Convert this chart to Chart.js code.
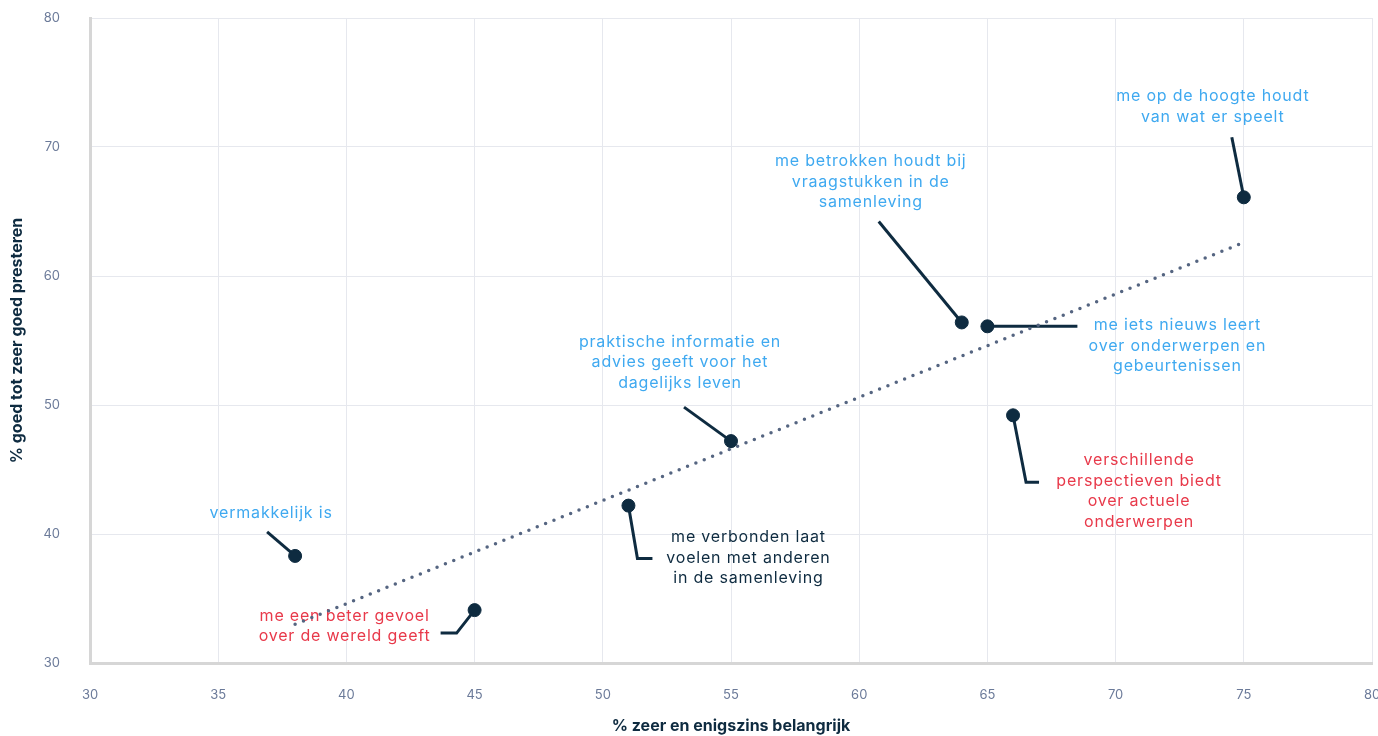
<!DOCTYPE html>
<html>
<head>
<meta charset="utf-8">
<script src="https://cdn.jsdelivr.net/npm/chart.js@4.4.0/dist/chart.umd.min.js"></script>
<style>
  html, body { margin: 0; padding: 0; background: #fff; overflow: hidden; }
  #wrap { width: 1378px; height: 736px; }
</style>
</head>
<body>
<div id="wrap"><canvas id="chart" width="1378" height="736"></canvas></div>
<script>
// data
const belangrijk = [38, 45, 51, 55, 64, 65, 66, 75];
const presteren = [38.3, 34.1, 42.2, 47.2, 56.4, 56.1, 49.2, 66.1];
const labels = [
    ['vermakkelijk is'],
    ['me een beter gevoel', 'over de wereld geeft'],
    ['me verbonden laat', 'voelen met anderen', 'in de samenleving'],
    ['praktische informatie en', 'advies geeft voor het', 'dagelijks leven'],
    ['me betrokken houdt bij', 'vraagstukken in de', 'samenleving'],
    ['me iets nieuws leert', 'over onderwerpen en', 'gebeurtenissen'],
    ['verschillende', 'perspectieven biedt', 'over actuele', 'onderwerpen'],
    ['me op de hoogte houdt', 'van wat er speelt']
];
const groep = ['hoog', 'laag', 'neutraal', 'hoog', 'hoog', 'hoog', 'laag', 'hoog'];
const trendX = [38, 75];
const trendY = [33.0, 62.6];
const xTicks = [30, 35, 40, 45, 50, 55, 60, 65, 70, 75, 80];
const yTicks = [30, 40, 50, 60, 70, 80];

const NAVY = '#0e2b40';
const kleuren = { hoog: '#3fa9f0', laag: '#e8394a', neutraal: '#0e2b40' };

// connector path + label offsets, in pixels relative to the point
const callouts = [
    { path: [[0, 0], [-28, -24]], label: [-24, -43] },
    { path: [[0, 0], [-18, 23], [-34, 23]], label: [-130, 6] },
    { path: [[0, 0], [9, 53], [24, 53]], label: [120, 32] },
    { path: [[0, 0], [-47, -34]], label: [-51, -99] },
    { path: [[0, 0], [-83, -101]], label: [-91, -161] },
    { path: [[0, 0], [90, 0]], label: [190, -1] },
    { path: [[0, 0], [13, 67], [26, 67]], label: [126, 45] },
    { path: [[0, 0], [-12, -60]], label: [-31, -101] }
];

const FONT = 'Inter, "Noto Sans", sans-serif';

const calloutPlugin = {
    id: 'callouts',
    beforeDatasetsDraw(chart) {
        const { ctx, scales } = chart;
        ctx.save();
        belangrijk.forEach((xv, i) => {
            const px = scales.x.getPixelForValue(xv);
            const py = scales.y.getPixelForValue(presteren[i]);
            const c = callouts[i];
            ctx.strokeStyle = NAVY;
            ctx.lineWidth = 3;
            ctx.beginPath();
            c.path.forEach((p, j) => {
                if (j === 0) ctx.moveTo(px + p[0], py + p[1]);
                else ctx.lineTo(px + p[0], py + p[1]);
            });
            ctx.stroke();

            ctx.fillStyle = kleuren[groep[i]];
            ctx.font = '16px ' + FONT;
            ctx.letterSpacing = '0.8px';
            ctx.textAlign = 'center';
            ctx.textBaseline = 'middle';
            labels[i].forEach((line, k) => {
                ctx.fillText(line, px + c.label[0], py + c.label[1] + k * 20.5);
            });
        });
        ctx.restore();
    }
};

new Chart(document.getElementById('chart'), {
    type: 'scatter',
    data: {
        datasets: [
            {
                label: 'items',
                data: belangrijk.map((x, i) => ({ x: x, y: presteren[i] })),
                backgroundColor: NAVY,
                borderColor: NAVY,
                pointRadius: 6.5,
                pointHoverRadius: 6.5,
                order: 1
            },
            {
                type: 'line',
                label: 'trend',
                data: trendX.map((x, i) => ({ x: x, y: trendY[i] })),
                borderColor: '#556581',
                borderWidth: 3.5,
                borderDash: [0, 9],
                borderCapStyle: 'round',
                pointRadius: 0,
                fill: false,
                order: 2
            }
        ]
    },
    options: {
        responsive: false,
        animation: false,
        layout: { autoPadding: false, padding: { top: 18, right: 6, left: 0, bottom: 0 } },
        plugins: {
            legend: { display: false },
            tooltip: { enabled: false }
        },
        scales: {
            x: {
                type: 'linear',
                min: 30,
                max: 80,
                afterBuildTicks: s => { s.ticks = xTicks.map(v => ({ value: v })); },
                afterFit: s => { s.height = 73; s.paddingRight = 0; s.paddingLeft = 0; },
                grid: { color: '#e6e8ee', lineWidth: 1, drawTicks: false },
                border: { color: '#d6d6d6', width: 3 },
                ticks: { color: '#6b7a99', font: { family: FONT, size: 13 }, padding: 24 },
                title: {
                    display: true,
                    text: '% zeer en enigszins belangrijk',
                    color: NAVY,
                    font: { family: FONT, size: 16, weight: 'bold', lineHeight: 1.2 },
                    padding: { top: 0, bottom: 0 }
                }
            },
            y: {
                type: 'linear',
                min: 30,
                max: 80,
                afterBuildTicks: s => { s.ticks = yTicks.map(v => ({ value: v })); },
                afterFit: s => { s.width = 90; s.paddingTop = 0; s.paddingBottom = 0; },
                grid: { color: '#e6e8ee', lineWidth: 1, drawTicks: false },
                border: { color: '#d6d6d6', width: 3 },
                ticks: { color: '#6b7a99', font: { family: FONT, size: 13 }, padding: 30 },
                title: {
                    display: true,
                    text: '% goed tot zeer goed presteren',
                    color: NAVY,
                    font: { family: FONT, size: 16, weight: 'bold', lineHeight: 1.2 },
                    padding: { top: 8, bottom: 0 }
                }
            }
        }
    },
    plugins: [calloutPlugin]
});
</script>
</body>
</html>
